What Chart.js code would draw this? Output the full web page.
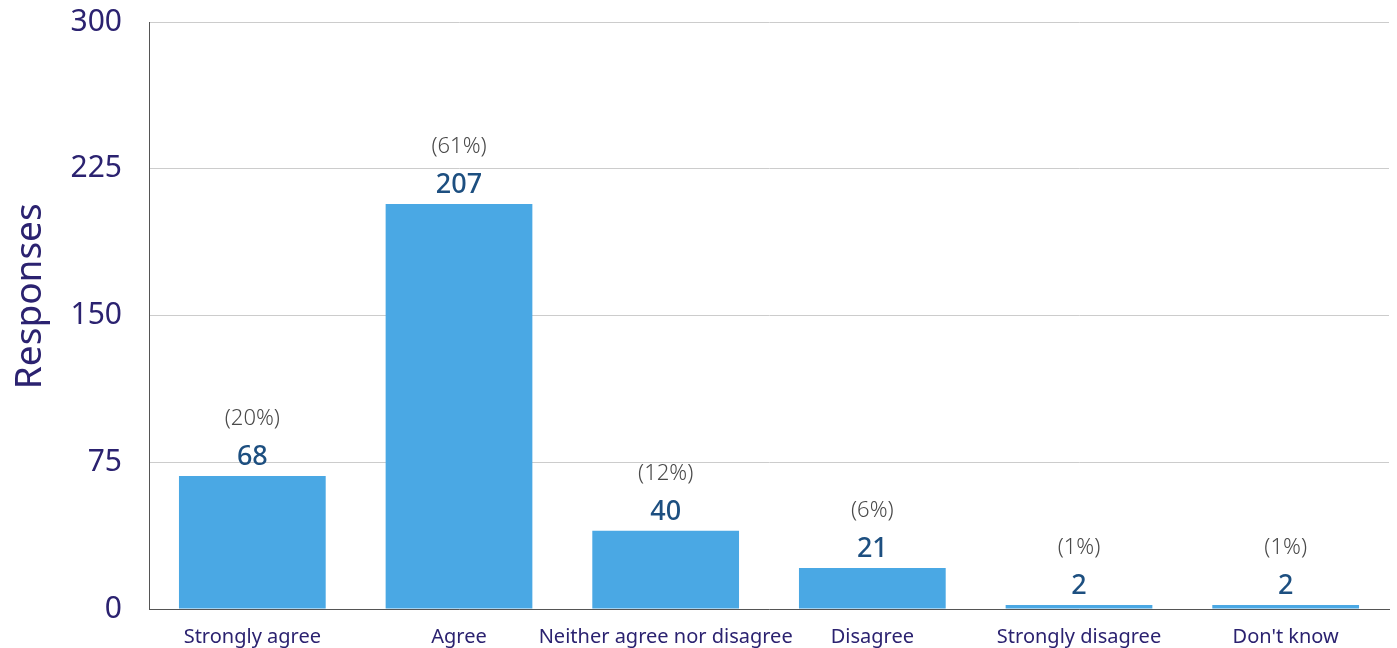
<!DOCTYPE html>
<html>
<head>
<meta charset="utf-8">
<script src="https://cdn.jsdelivr.net/npm/chart.js@4"></script>
<style>
	html, body { margin: 0; padding: 0; background: #fff; }
	#wrap { width: 1397px; height: 648px; }
</style>
</head>
<body>
<div id="wrap"><canvas id="chart" width="1397" height="648"></canvas></div>
<script>
const categories = ['Strongly agree', 'Agree', 'Neither agree nor disagree', 'Disagree', 'Strongly disagree', "Don't know"];
const responses = [68, 207, 40, 21, 2, 2];
const percentLabels = ['(20%)', '(61%)', '(12%)', '(6%)', '(1%)', '(1%)'];
const yTicks = [0, 75, 150, 225, 300];

const FONT = "'Noto Sans', sans-serif";

// draws the count and the percent above each bar
const barLabels = {
	id: 'barLabels',
	afterDatasetsDraw(chart) {
		const ctx = chart.ctx;
		const meta = chart.getDatasetMeta(0);
		ctx.save();
		ctx.textAlign = 'center';
		ctx.textBaseline = 'alphabetic';
		meta.data.forEach((bar, i) => {
			const p = bar.getProps(['x', 'y'], true);
			ctx.fillStyle = '#1d4f80';
			ctx.font = '500 27px ' + FONT;
			ctx.fillText(String(responses[i]), p.x, p.y - 11);
			ctx.fillStyle = '#4a4a4a';
			ctx.font = '300 22px ' + FONT;
			ctx.fillText(percentLabels[i], p.x, p.y - 51);
		});
		ctx.restore();
	}
};

new Chart(document.getElementById('chart'), {
	type: 'bar',
	data: {
		labels: categories,
		datasets: [{
			label: 'Responses',
			data: responses,
			backgroundColor: '#4aa8e4',
			barPercentage: 0.71,
			categoryPercentage: 1
		}]
	},
	options: {
		responsive: false,
		animation: false,
		layout: { padding: { top: 22, right: 8, left: 8, bottom: 0 } },
		plugins: { legend: { display: false }, tooltip: { enabled: false } },
		scales: {
			x: {
				grid: { display: false, drawTicks: false },
				border: { color: '#555', width: 1 },
				ticks: { color: '#2b2270', font: { family: FONT, size: 20 }, padding: 16, maxRotation: 0, minRotation: 0, autoSkip: false },
				afterFit(scale) { scale.height = 39; scale.paddingLeft = 0; scale.paddingRight = 0; }
			},
			y: {
				min: 0,
				max: 300,
				afterBuildTicks(scale) { scale.ticks = yTicks.map(v => ({ value: v })); },
				grid: { color: '#cccccc', drawTicks: false },
				border: { color: '#555', width: 1 },
				ticks: { color: '#2b2270', font: { family: FONT, size: 30 }, padding: 27 },
				title: { display: true, text: '    Responses', color: '#2b2270', font: { family: FONT, size: 37 }, padding: 0 },
				afterFit(scale) { scale.width = 141; scale.paddingTop = 0; scale.paddingBottom = 0; }
			}
		}
	},
	plugins: [barLabels]
});
</script>
</body>
</html>
